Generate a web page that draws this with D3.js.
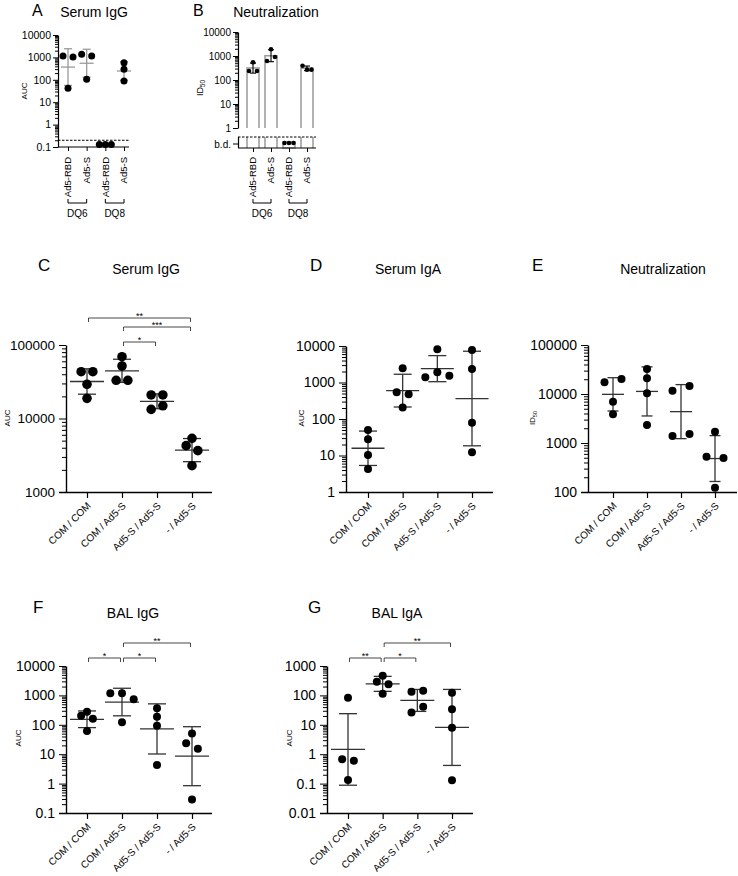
<!DOCTYPE html>
<html><head><meta charset="utf-8">
<script src="https://cdn.jsdelivr.net/npm/d3@7"></script>
<style>body{margin:0;background:#fff} svg{display:block}</style>
</head><body><svg id="chart" width="738" height="876"></svg>
<script>
// ---------------- DATA ----------------
const abGroups = ["Ad5-RBD", "Ad5-S", "Ad5-RBD", "Ad5-S"];
const abAlleles = ["DQ6", "DQ8"];
const aSerumIgG = [[1150, 42, 1050], [1370, 105, 1150], [0.13, 0.13, 0.13], [580, 295, 88]];
const aDetectionLimit = 0.2;
const aTicks = [0.1, 1, 10, 100, 1000, 10000];
const bNeutralization = [[545, 237, 237], [1900, 620, 910], ["b.d.", "b.d.", "b.d."], [395, 270, 270]];
const bTicks = [1, 10, 100, 1000, 10000];

const cgGroups = ["COM / COM", "COM / Ad5-S", "Ad5-S / Ad5-S", "- / Ad5-S"];
const cSerumIgG = [[43300, 43300, 29200, 18800], [69300, 51800, 33100, 33100], [20900, 20900, 13300, 14900], [5370, 4270, 3650, 2280]];
const cTicks = [1000, 10000, 100000];
const cSig = [{from: 1, to: 2, label: "*", level: 0}, {from: 1, to: 3, label: "***", level: 1}, {from: 0, to: 3, label: "**", level: 2}];
const dSerumIgA = [[50, 28, 10.3, 4.3], [2450, 540, 475, 205], [8100, 1390, 1900, 1540], [7770, 2340, 79, 12.2]];
const dTicks = [1, 10, 100, 1000, 10000];
const eNeutralization = [[17300, 20200, 6970, 3850], [32400, 20900, 10300, 2330], [11700, 14600, 1390, 1530], [1700, 526, 494, 122]];
const eTicks = [100, 1000, 10000, 100000];
const fBalIgG = [[204, 279, 161, 61.5], [1180, 1180, 736, 122], [364, 189, 93, 4.3], [51, 23.5, 15.4, 0.29]];
const fTicks = [0.1, 1, 10, 100, 1000, 10000];
const fSig = [{from: 0, to: 1, label: "*", level: 0}, {from: 1, to: 2, label: "*", level: 0}, {from: 1, to: 3, label: "**", level: 1}];
const gBalIgA = [[83.5, 0.67, 0.60, 0.132], [468, 292, 239, 114], [134, 145, 26, 41], [124, 34, 8, 0.13]];
const gTicks = [0.01, 0.1, 1, 10, 100, 1000];
const gSig = [{from: 0, to: 1, label: "**", level: 0}, {from: 1, to: 2, label: "*", level: 0}, {from: 1, to: 3, label: "**", level: 1}];

// ---------------- HELPERS ----------------
const FONT = "'Liberation Sans', Arial, Helvetica, sans-serif";
const svg = d3.select("#chart").attr("font-family", FONT);

function gstats(vals) {
  const logs = vals.map(v => Math.log10(v));
  const m = d3.mean(logs), sd = d3.deviation(logs) || 0;
  return {mean: Math.pow(10, m), lo: Math.pow(10, m - sd), hi: Math.pow(10, m + sd)};
}
function minorTicks(dom) {
  const out = [];
  const e0 = Math.round(Math.log10(dom[0])), e1 = Math.round(Math.log10(dom[1]));
  for (let e = e0; e < e1; e++) for (let k = 2; k <= 9; k++) out.push(k * Math.pow(10, e));
  return out;
}
function swarm(vals, yOf, thresh, spacing, maxW) {
  const pts = vals.map((v, i) => ({i, y: yOf(v)}));
  const sorted = pts.slice().sort((a, b) => (b.y - a.y) || (a.i - b.i));
  const rows = []; let cur = null;
  for (const p of sorted) {
    if (cur && Math.abs(p.y - cur[0].y) < thresh) cur.push(p);
    else { cur = [p]; rows.push(cur); }
  }
  const off = new Array(vals.length).fill(0);
  rows.forEach(r => {
    r.sort((a, b) => a.i - b.i);
    const n = r.length, sp = n > 1 ? Math.min(spacing, maxW / (n - 1)) : 0;
    r.forEach((p, k) => off[p.i] = (k - (n - 1) / 2) * sp);
  });
  return off;
}
function yAxisLog(g, y, x0, majors, majorLen, minorLen, fontSize, pad, sw) {
  const ax = g.append("g").attr("transform", `translate(${x0},0)`);
  ax.call(d3.axisLeft(y).tickValues(minorTicks(y.domain())).tickSize(minorLen).tickFormat("").tickSizeOuter(0));
  ax.select(".domain").remove();
  const ax2 = g.append("g").attr("transform", `translate(${x0},0)`);
  ax2.call(d3.axisLeft(y).tickValues(majors).tickSize(majorLen).tickPadding(pad).tickFormat(d => String(d)).tickSizeOuter(0));
  ax2.select(".domain").attr("stroke-width", sw);
  ax2.selectAll(".tick text").attr("font-size", fontSize).attr("font-family", FONT).attr("fill", "#000");
  g.selectAll(".tick line").attr("stroke", "#000").attr("stroke-width", 1);
}
function rotLabel(g, x, y, parts, size) {
  const t = g.append("text").attr("transform", `translate(${x},${y}) rotate(-90)`)
    .attr("text-anchor", "middle").attr("font-size", size);
  parts.forEach(p => {
    const ts = t.append("tspan").text(p.t);
    if (p.sub) ts.attr("font-size", size * 0.7).attr("dy", 2);
  });
}
function title(letter, lx, ly, txt, tx, ty, ls) {
  svg.append("text").attr("x", lx).attr("y", ly).attr("font-size", ls || 17).text(letter);
  svg.append("text").attr("x", tx).attr("y", ty).attr("font-size", 14).attr("text-anchor", "middle").text(txt);
}
function errBar(g, x, s, y, capW, meanW, color, sw) {
  const e = g.append("g").attr("stroke", color).attr("stroke-width", sw);
  e.append("line").attr("x1", x).attr("x2", x).attr("y1", y(s.hi)).attr("y2", y(s.lo));
  e.append("line").attr("x1", x - capW / 2).attr("x2", x + capW / 2).attr("y1", y(s.hi)).attr("y2", y(s.hi));
  e.append("line").attr("x1", x - capW / 2).attr("x2", x + capW / 2).attr("y1", y(s.lo)).attr("y2", y(s.lo));
  if (meanW) e.append("line").attr("x1", x - meanW / 2).attr("x2", x + meanW / 2).attr("y1", y(s.mean)).attr("y2", y(s.mean));
}
function groupLabels(g, x, yTop) {
  abGroups.forEach((lab, i) => {
    g.append("text").attr("transform", `translate(${x(i)},${yTop}) rotate(-90)`)
      .attr("text-anchor", "end").attr("dy", "0.35em").attr("font-size", 9.5).text(lab);
  });
  abAlleles.forEach((al, k) => {
    const x1 = x(2 * k), x2 = x(2 * k + 1), by = 203;
    g.append("path").attr("d", `M${x1},${by - 4}V${by}H${x2}V${by - 4}`).attr("fill", "none").attr("stroke", "#000").attr("stroke-width", 1);
    g.append("text").attr("x", (x1 + x2) / 2).attr("y", 217).attr("text-anchor", "middle").attr("font-size", 10).text(al);
  });
}

// ---------------- PANEL A ----------------
(function () {
  const L = {axisX: 58, xEnd: 129, c0: 68, c1: 124, top: 35, bottom: 147};
  const g = svg.append("g");
  const y = d3.scaleLog().domain([0.1, 10000]).range([L.bottom, L.top]);
  const x = d3.scalePoint().domain(d3.range(4)).range([L.c0, L.c1]);
  g.append("line").attr("x1", L.axisX).attr("x2", L.xEnd).attr("y1", y(aDetectionLimit)).attr("y2", y(aDetectionLimit))
    .attr("stroke", "#000").attr("stroke-width", 1.2).attr("stroke-dasharray", "2.5,1.5");
  yAxisLog(g, y, L.axisX, aTicks, 5, 3, 10.5, 2, 1.2);
  g.append("line").attr("x1", L.axisX).attr("x2", L.xEnd).attr("y1", L.bottom).attr("y2", L.bottom).attr("stroke", "#000").attr("stroke-width", 1.2);
  const xa = g.append("g").attr("transform", `translate(0,${L.bottom})`).call(d3.axisBottom(x).tickSize(4).tickFormat("").tickSizeOuter(0));
  xa.select(".domain").remove();
  xa.selectAll("line").attr("stroke", "#000");
  aSerumIgG.forEach((vals, i) => {
    errBar(g, x(i), gstats(vals), y, 8, 14, "#9a9a9a", 1.3);
    const off = swarm(vals, y, 6, 10, 12);
    g.selectAll(null).data(vals).join("circle").attr("cx", (d, k) => x(i) + off[k]).attr("cy", d => y(d)).attr("r", 3.5).attr("fill", "#000");
  });
  groupLabels(g, x, 157);
  rotLabel(g, 27, 91, [{t: "AUC"}], 8);
  title("A", 32, 16, "Serum IgG", 94, 17, 16);
})();

// ---------------- PANEL B ----------------
(function () {
  const L = {axisX: 238, xEnd: 316, c0: 253, c1: 307, top: 32, bottom: 128, lowTop: 137, lowBottom: 148, bd: 143};
  const g = svg.append("g");
  const y = d3.scaleLog().domain([1, 10000]).range([L.bottom, L.top]);
  const x = d3.scalePoint().domain(d3.range(4)).range([L.c0, L.c1]);
  const bw = 12;
  bNeutralization.forEach((vals, i) => {
    const cx = x(i);
    if (typeof vals[0] === "number") {
      const s = gstats(vals);
      g.append("path").attr("d", `M${cx - bw / 2},${L.bottom}V${y(s.mean)}H${cx + bw / 2}V${L.bottom}`)
        .attr("fill", "#fff").attr("stroke", "#999").attr("stroke-width", 1.5);
      g.append("path").attr("d", `M${cx - bw / 2},${L.lowTop}V${L.lowBottom}M${cx + bw / 2},${L.lowTop}V${L.lowBottom}`)
        .attr("fill", "none").attr("stroke", "#999").attr("stroke-width", 1.5);
      errBar(g, cx, s, y, 6, 0, "#000", 1.1);
      const off = swarm(vals, y, 5, 8, 9);
      g.selectAll(null).data(vals).join("circle").attr("cx", (d, k) => cx + off[k]).attr("cy", d => y(d)).attr("r", 2.3).attr("fill", "#000");
    } else {
      g.append("rect").attr("x", cx - bw / 2).attr("y", L.bd - 1).attr("width", bw).attr("height", L.lowBottom - L.bd + 1)
        .attr("fill", "#fff").attr("stroke", "#999").attr("stroke-width", 1.5);
      const off = swarm(vals.map(() => 1), () => L.bd, 5, 8, 9);
      g.selectAll(null).data(vals).join("circle").attr("cx", (d, k) => cx + off[k]).attr("cy", L.bd).attr("r", 2.3).attr("fill", "#000");
    }
  });
  yAxisLog(g, y, L.axisX, bTicks, 5, 3, 10, 2, 1.2);
  g.append("line").attr("x1", L.axisX + 0.5).attr("x2", L.axisX + 0.5).attr("y1", L.lowTop).attr("y2", L.lowBottom).attr("stroke", "#000").attr("stroke-width", 1.2);
  g.append("line").attr("x1", L.axisX - 5).attr("x2", L.axisX).attr("y1", L.bd + 1).attr("y2", L.bd + 1).attr("stroke", "#000");
  g.append("text").attr("x", L.axisX - 7).attr("y", L.bd + 1).attr("dy", "0.35em").attr("text-anchor", "end").attr("font-size", 10).text("b.d.");
  g.append("line").attr("x1", L.axisX).attr("x2", L.xEnd).attr("y1", L.lowTop).attr("y2", L.lowTop)
    .attr("stroke", "#000").attr("stroke-width", 1.2).attr("stroke-dasharray", "2.5,1.5");
  g.append("line").attr("x1", L.axisX).attr("x2", L.xEnd).attr("y1", L.lowBottom).attr("y2", L.lowBottom).attr("stroke", "#000").attr("stroke-width", 1.2);
  const xa = g.append("g").attr("transform", `translate(0,${L.lowBottom})`).call(d3.axisBottom(x).tickSize(4).tickFormat("").tickSizeOuter(0));
  xa.select(".domain").remove();
  xa.selectAll("line").attr("stroke", "#000");
  groupLabels(g, x, 157);
  const t = g.append("text").attr("transform", `translate(203,88) rotate(-90)`).attr("text-anchor", "middle").attr("font-size", 9);
  t.append("tspan").text("ID");
  t.append("tspan").text("50").attr("font-size", 6.5).attr("dy", 2);
  title("B", 193, 16, "Neutralization", 276, 17, 16);
})();

// ---------------- PANELS C - G ----------------
const panels = [
  {data: cSerumIgG, ticks: cTicks, sig: cSig, sigOff: [3, 18, 27], axisX: 66, xEnd: 212, c0: 87, c1: 192, top: 345, bottom: 492, r: 4.8, fs: 13.5,
   meanW: 34, capW: 18, sp: 11.7, yl: {x: 10, y: 418, t: [{t: "AUC"}]}, T: ["C", 38, 271, "Serum IgG", 146, 274]},
  {data: dSerumIgA, ticks: dTicks, sig: [], axisX: 346, xEnd: 493, c0: 368, c1: 472, top: 346, bottom: 492, r: 4, fs: 14,
   meanW: 33, capW: 18, sp: 12, yl: {x: 304, y: 418, t: [{t: "AUC"}]}, T: ["D", 310, 271, "Serum IgA", 408, 274]},
  {data: eNeutralization, ticks: eTicks, sig: [], axisX: 588, xEnd: 737, c0: 613, c1: 715, top: 345, bottom: 492, r: 4, fs: 14,
   meanW: 22, capW: 11, sp: 17, yl: {x: 535, y: 418, t: [{t: "ID"}, {t: "50", sub: true}]}, T: ["E", 532, 271, "Neutralization", 663, 274]},
  {data: fBalIgG, ticks: fTicks, sig: fSig, sigOff: [8, 23], axisX: 66, xEnd: 212, c0: 87, c1: 192, top: 666, bottom: 813, r: 4, fs: 14,
   meanW: 34, capW: 18, sp: 11.7, yl: {x: 21, y: 738, t: [{t: "AUC"}]}, T: ["F", 33, 613, "BAL IgG", 133, 618]},
  {data: gBalIgA, ticks: gTicks, sig: gSig, sigOff: [8, 23], axisX: 327, xEnd: 473, c0: 348, c1: 452, top: 666, bottom: 813, r: 4, fs: 14,
   meanW: 34, capW: 18, sp: 11.7, yl: {x: 292, y: 738, t: [{t: "AUC"}]}, T: ["G", 308, 613, "BAL IgA", 397, 618]}
];
panels.forEach(P => {
  const g = svg.append("g");
  const y = d3.scaleLog().domain([P.ticks[0], P.ticks[P.ticks.length - 1]]).range([P.bottom, P.top]);
  const x = d3.scalePoint().domain(d3.range(cgGroups.length)).range([P.c0, P.c1]);
  yAxisLog(g, y, P.axisX, P.ticks, 7, 4, P.fs, 4, 1.4);
  g.append("line").attr("x1", P.axisX - 7).attr("x2", P.xEnd).attr("y1", P.bottom + 0.5).attr("y2", P.bottom + 0.5).attr("stroke", "#000").attr("stroke-width", 1.4);
  const xa = g.append("g").attr("transform", `translate(0,${P.bottom})`).call(d3.axisBottom(x).tickSize(6).tickFormat("").tickSizeOuter(0));
  xa.select(".domain").remove();
  xa.selectAll("line").attr("stroke", "#000").attr("stroke-width", 1.2);
  cgGroups.forEach((lab, i) => {
    g.append("text").attr("transform", `translate(${x(i) + 2},${P.bottom + 12}) rotate(-45)`)
      .attr("text-anchor", "end").attr("dy", "0.35em").attr("font-size", 10).text(lab);
  });
  P.data.forEach((vals, i) => {
    errBar(g, x(i), gstats(vals), y, P.capW, P.meanW, "#333", 1.3);
    const off = swarm(vals, y, 2 * P.r * 0.85, P.sp, 40);
    g.selectAll(null).data(vals).join("circle").attr("cx", (d, k) => x(i) + off[k]).attr("cy", d => y(d)).attr("r", P.r).attr("fill", "#000");
  });
  P.sig.forEach(s => {
    const yy = P.top - P.sigOff[s.level];
    const x1 = x(s.from) + 1.5, x2 = x(s.to) - 1.5;
    g.append("path").attr("d", `M${x1},${yy + 4}V${yy}H${x2}V${yy + 4}`).attr("fill", "none").attr("stroke", "#333").attr("stroke-width", 0.9);
    g.append("text").attr("x", (x1 + x2) / 2).attr("y", yy + 1).attr("text-anchor", "middle").attr("font-size", 9).text(s.label);
  });
  rotLabel(g, P.yl.x, P.yl.y, P.yl.t, 8);
  title(...P.T);
});
</script></body></html>
